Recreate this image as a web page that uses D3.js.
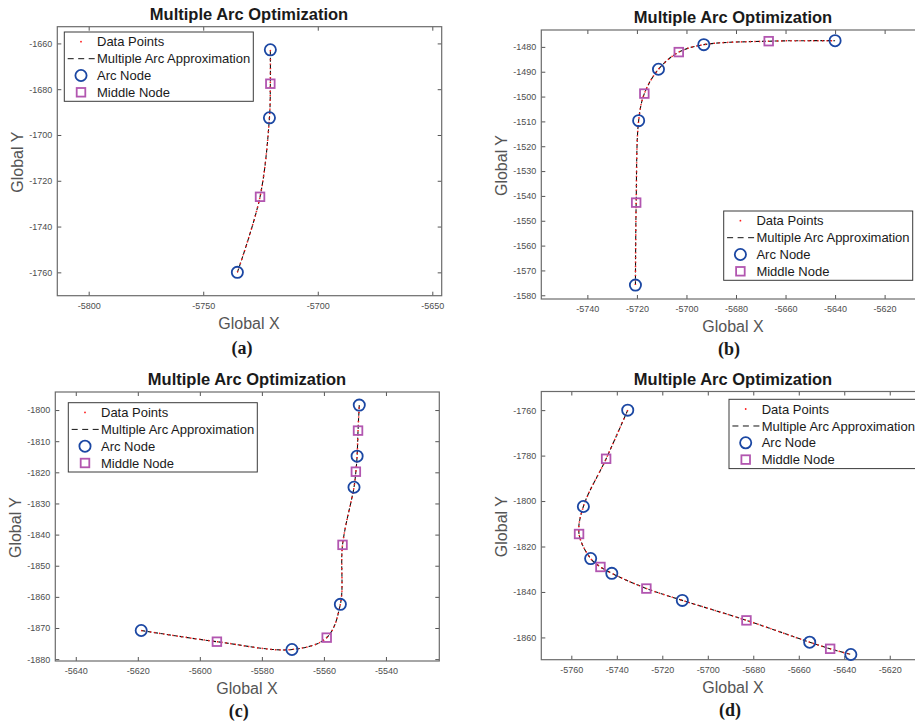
<!DOCTYPE html>
<html>
<head>
<meta charset="utf-8">
<script src="https://cdn.jsdelivr.net/npm/d3@7"></script>
<style>
  body { margin: 0; background: #fff; }
  svg { display: block; }
  .title { font: bold 16.5px "Liberation Sans", Arial, sans-serif; fill: #1a1a1a; }
  .axis-label { font: 16px "Liberation Sans", Arial, sans-serif; fill: #555; }
  .tick text { font: 9px "Liberation Sans", Arial, sans-serif; fill: #4d4d4d; }
  .tick line { stroke: #555; }
  .legend-text { font: 13px "Liberation Sans", Arial, sans-serif; fill: #1a1a1a; }
  .caption { font: bold 18px "Liberation Serif", "Times New Roman", serif; fill: #1a1a1a; }
</style>
</head>
<body>
<div id="chart"></div>
<script>
// ---- data ----
var legendLabels = ["Data Points", "Multiple Arc Approximation", "Arc Node", "Middle Node"];
var chartTitle = "Multiple Arc Optimization";
var captions = ["(a)", "(b)", "(c)", "(d)"];

// (a)
var arcNodesA = [[-5735.1, -1760.0], [-5721.1, -1692.5], [-5720.7, -1662.8]];
var middleNodesA = [[-5725.2, -1727.0], [-5720.7, -1677.6]];
var xDomainA = [-5813.7, -5645.9];
var yDomainA = [-1770.2, -1652.7];
var xTicksA = [-5800, -5750, -5700, -5650];
var yTicksA = [-1760, -1740, -1720, -1700, -1680, -1660];

// (b)
var arcNodesB = [[-5720.6, -1575.9], [-5719.3, -1509.7], [-5711.3, -1489.0], [-5693.0, -1479.1], [-5640.0, -1477.5]];
var middleNodesB = [[-5720.3, -1542.7], [-5717.0, -1498.8], [-5703.1, -1482.1], [-5666.8, -1477.7]];
var xDomainB = [-5758.6, -5603.7];
var yDomainB = [-1581.5, -1473.2];
var xTicksB = [-5740, -5720, -5700, -5680, -5660, -5640, -5620];
var yTicksB = [-1580, -1570, -1560, -1550, -1540, -1530, -1520, -1510, -1500, -1490, -1480];

// (c)
var arcNodesC = [[-5618.9, -1870.8], [-5570.3, -1876.9], [-5554.7, -1862.4], [-5550.3, -1824.8], [-5549.3, -1814.8], [-5548.6, -1798.4]];
var middleNodesC = [[-5594.5, -1874.4], [-5559.1, -1873.1], [-5554.0, -1843.3], [-5549.7, -1819.8], [-5549.0, -1806.6]];
var xDomainC = [-5646.6, -5522.8];
var yDomainC = [-1880.6, -1794.2];
var xTicksC = [-5640, -5620, -5600, -5580, -5560, -5540];
var yTicksC = [-1880, -1870, -1860, -1850, -1840, -1830, -1820, -1810, -1800];

// (d)
var arcNodesD = [[-5735.2, -1760.0], [-5754.7, -1802.4], [-5751.5, -1825.3], [-5742.2, -1831.8], [-5711.2, -1843.7], [-5655.2, -1862.1], [-5637.1, -1867.5]];
var middleNodesD = [[-5744.7, -1781.4], [-5756.6, -1814.5], [-5747.2, -1829.0], [-5727.0, -1838.5], [-5683.0, -1852.5], [-5646.2, -1865.0]];
var xDomainD = [-5773.2, -5604.5];
var yDomainD = [-1869.8, -1751.8];
var xTicksD = [-5760, -5740, -5720, -5700, -5680, -5660, -5640, -5620];
var yTicksD = [-1860, -1840, -1820, -1800, -1780, -1760];

// ---- layout ----
var panels = [
  { arcs: arcNodesA, mids: middleNodesA, xDomain: xDomainA, yDomain: yDomainA, xTicks: xTicksA, yTicks: yTicksA,
    box: { left: 57.3, right: 441.7, top: 26.7, bottom: 295.7 }, center: 249, legend: { x: 64.3, y: 32 },
    yLabelX: 17, caption: captions[0], capX: 242, capY: 348 },
  { arcs: arcNodesB, mids: middleNodesB, xDomain: xDomainB, yDomain: yDomainB, xTicks: xTicksB, yTicks: yTicksB,
    box: { left: 541.3, right: 925, top: 30, bottom: 299 }, center: 733, legend: { x: 723.7, y: 211 },
    yLabelX: 501.7, caption: captions[1], capX: 729, capY: 348.3 },
  { arcs: arcNodesC, mids: middleNodesC, xDomain: xDomainC, yDomain: yDomainC, xTicks: xTicksC, yTicks: yTicksC,
    box: { left: 55.3, right: 439.3, top: 392, bottom: 661 }, center: 247, legend: { x: 68.3, y: 402.7 },
    yLabelX: 15, caption: captions[2], capX: 238.7, capY: 710.3 },
  { arcs: arcNodesD, mids: middleNodesD, xDomain: xDomainD, yDomain: yDomainD, xTicks: xTicksD, yTicks: yTicksD,
    box: { left: 541.3, right: 925, top: 391.5, bottom: 659.7 }, center: 733, legend: { x: 729, y: 399.3 },
    yLabelX: 501.7, caption: captions[3], capX: 730, capY: 709.7 }
];

var BLUE = "#1b47a3", PURPLE = "#b256b0", RED = "#ff1a1a";

var svg = d3.select('#chart')
  .append('svg')
    .attr('width', 915)
    .attr('height', 722);

// arc node, middle node, arc node ... along the path
function nodePath(arcs, mids) {
  var out = [];
  arcs.forEach(function (a, i) {
    out.push(a);
    if (mids[i]) out.push(mids[i]);
  });
  return out;
}

function drawPanel(p, idx) {
  var b = p.box;
  var x = d3.scaleLinear().domain(p.xDomain).range([b.left, b.right]);
  var y = d3.scaleLinear().domain(p.yDomain).range([b.bottom, b.top]);
  var g = svg.append('g').attr('class', 'panel');
  var fmt = function (d) { return String(d); };

  // clip
  var clipId = 'clip' + idx;
  g.append('clipPath')
    .attr('id', clipId)
    .append('rect')
      .attr('x', b.left).attr('y', b.top)
      .attr('width', b.right - b.left).attr('height', b.bottom - b.top);

  // ticks on four sides, inward
  g.append('g')
    .attr('transform', 'translate(0,' + b.bottom + ')')
    .call(d3.axisBottom(x).tickValues(p.xTicks).tickSize(-4).tickPadding(7).tickFormat(fmt))
    .call(function (s) { s.select('.domain').remove(); });
  g.append('g')
    .attr('transform', 'translate(0,' + b.top + ')')
    .call(d3.axisTop(x).tickValues(p.xTicks).tickSize(-4).tickFormat(''))
    .call(function (s) { s.select('.domain').remove(); });
  g.append('g')
    .attr('transform', 'translate(' + b.left + ',0)')
    .call(d3.axisLeft(y).tickValues(p.yTicks).tickSize(-4).tickPadding(5).tickFormat(fmt))
    .call(function (s) { s.select('.domain').remove(); });
  g.append('g')
    .attr('transform', 'translate(' + b.right + ',0)')
    .call(d3.axisRight(y).tickValues(p.yTicks).tickSize(-4).tickFormat(''))
    .call(function (s) { s.select('.domain').remove(); });

  g.append('rect')
    .attr('x', b.left).attr('y', b.top)
    .attr('width', b.right - b.left).attr('height', b.bottom - b.top)
    .attr('fill', 'none')
    .attr('stroke', '#6b6b6b')
    .attr('stroke-width', 1.2);

  // curves
  var pts = nodePath(p.arcs, p.mids);
  var line = d3.line()
    .x(function (d) { return x(d[0]); })
    .y(function (d) { return y(d[1]); })
    .curve(d3.curveCatmullRom.alpha(0.5));

  var plot = g.append('g').attr('clip-path', 'url(#' + clipId + ')');
  plot.append('path')
    .attr('d', line(pts))
    .attr('fill', 'none')
    .attr('stroke', '#111')
    .attr('stroke-width', 1.1)
    .attr('stroke-dasharray', '4,2.5');
  plot.append('path')
    .attr('d', line(pts))
    .attr('fill', 'none')
    .attr('stroke', RED)
    .attr('stroke-width', 1.5)
    .attr('stroke-dasharray', '1.3,3.2');

  // nodes
  g.selectAll('rect.mid')
    .data(p.mids)
    .enter().append('rect')
      .attr('class', 'mid')
      .attr('x', function (d) { return x(d[0]) - 4.3; })
      .attr('y', function (d) { return y(d[1]) - 4.3; })
      .attr('width', 8.6).attr('height', 8.6)
      .attr('fill', 'none')
      .attr('stroke', PURPLE)
      .attr('stroke-width', 1.8);
  g.selectAll('circle.arc')
    .data(p.arcs)
    .enter().append('circle')
      .attr('class', 'arc')
      .attr('cx', function (d) { return x(d[0]); })
      .attr('cy', function (d) { return y(d[1]); })
      .attr('r', 5.6)
      .attr('fill', 'none')
      .attr('stroke', BLUE)
      .attr('stroke-width', 1.8);

  // labels
  g.append('text')
    .attr('class', 'title')
    .attr('x', p.center).attr('y', b.top - 12.5)
    .attr('dy', '0.35em')
    .attr('text-anchor', 'middle')
    .text(chartTitle);
  g.append('text')
    .attr('class', 'axis-label')
    .attr('x', p.center).attr('y', b.bottom + 27.3)
    .attr('dy', '0.35em')
    .attr('text-anchor', 'middle')
    .text('Global X');
  g.append('text')
    .attr('class', 'axis-label')
    .attr('transform', 'translate(' + p.yLabelX + ',' + ((b.top + b.bottom) / 2 + 1) + ') rotate(-90)')
    .attr('dy', '0.35em')
    .attr('text-anchor', 'middle')
    .text('Global Y');
  g.append('text')
    .attr('class', 'caption')
    .attr('x', p.capX).attr('y', p.capY)
    .attr('dy', '0.35em')
    .attr('text-anchor', 'middle')
    .text(p.caption);

  // legend
  var lg = g.append('g').attr('transform', 'translate(' + p.legend.x + ',' + p.legend.y + ')');
  lg.append('rect')
    .attr('width', 189).attr('height', 69.3)
    .attr('fill', '#fff')
    .attr('stroke', '#3a3a3a')
    .attr('stroke-width', 1);
  var rowY = [9.7, 26.7, 43.5, 60.3];
  legendLabels.forEach(function (label, i) {
    lg.append('text')
      .attr('class', 'legend-text')
      .attr('x', 32.7).attr('y', rowY[i])
      .attr('dy', '0.35em')
      .text(label);
  });
  lg.append('circle')
    .attr('cx', 16.7).attr('cy', rowY[0])
    .attr('r', 0.9)
    .attr('fill', RED);
  lg.append('line')
    .attr('x1', 3.4).attr('x2', 31)
    .attr('y1', rowY[1]).attr('y2', rowY[1])
    .attr('stroke', '#111')
    .attr('stroke-dasharray', '6,4.5');
  lg.append('circle')
    .attr('cx', 16.7).attr('cy', rowY[2])
    .attr('r', 5.6)
    .attr('fill', 'none')
    .attr('stroke', BLUE)
    .attr('stroke-width', 1.8);
  lg.append('rect')
    .attr('x', 16.7 - 4.3).attr('y', rowY[3] - 4.3)
    .attr('width', 8.6).attr('height', 8.6)
    .attr('fill', 'none')
    .attr('stroke', PURPLE)
    .attr('stroke-width', 1.8);
}

panels.forEach(drawPanel);
</script>
</body>
</html>
